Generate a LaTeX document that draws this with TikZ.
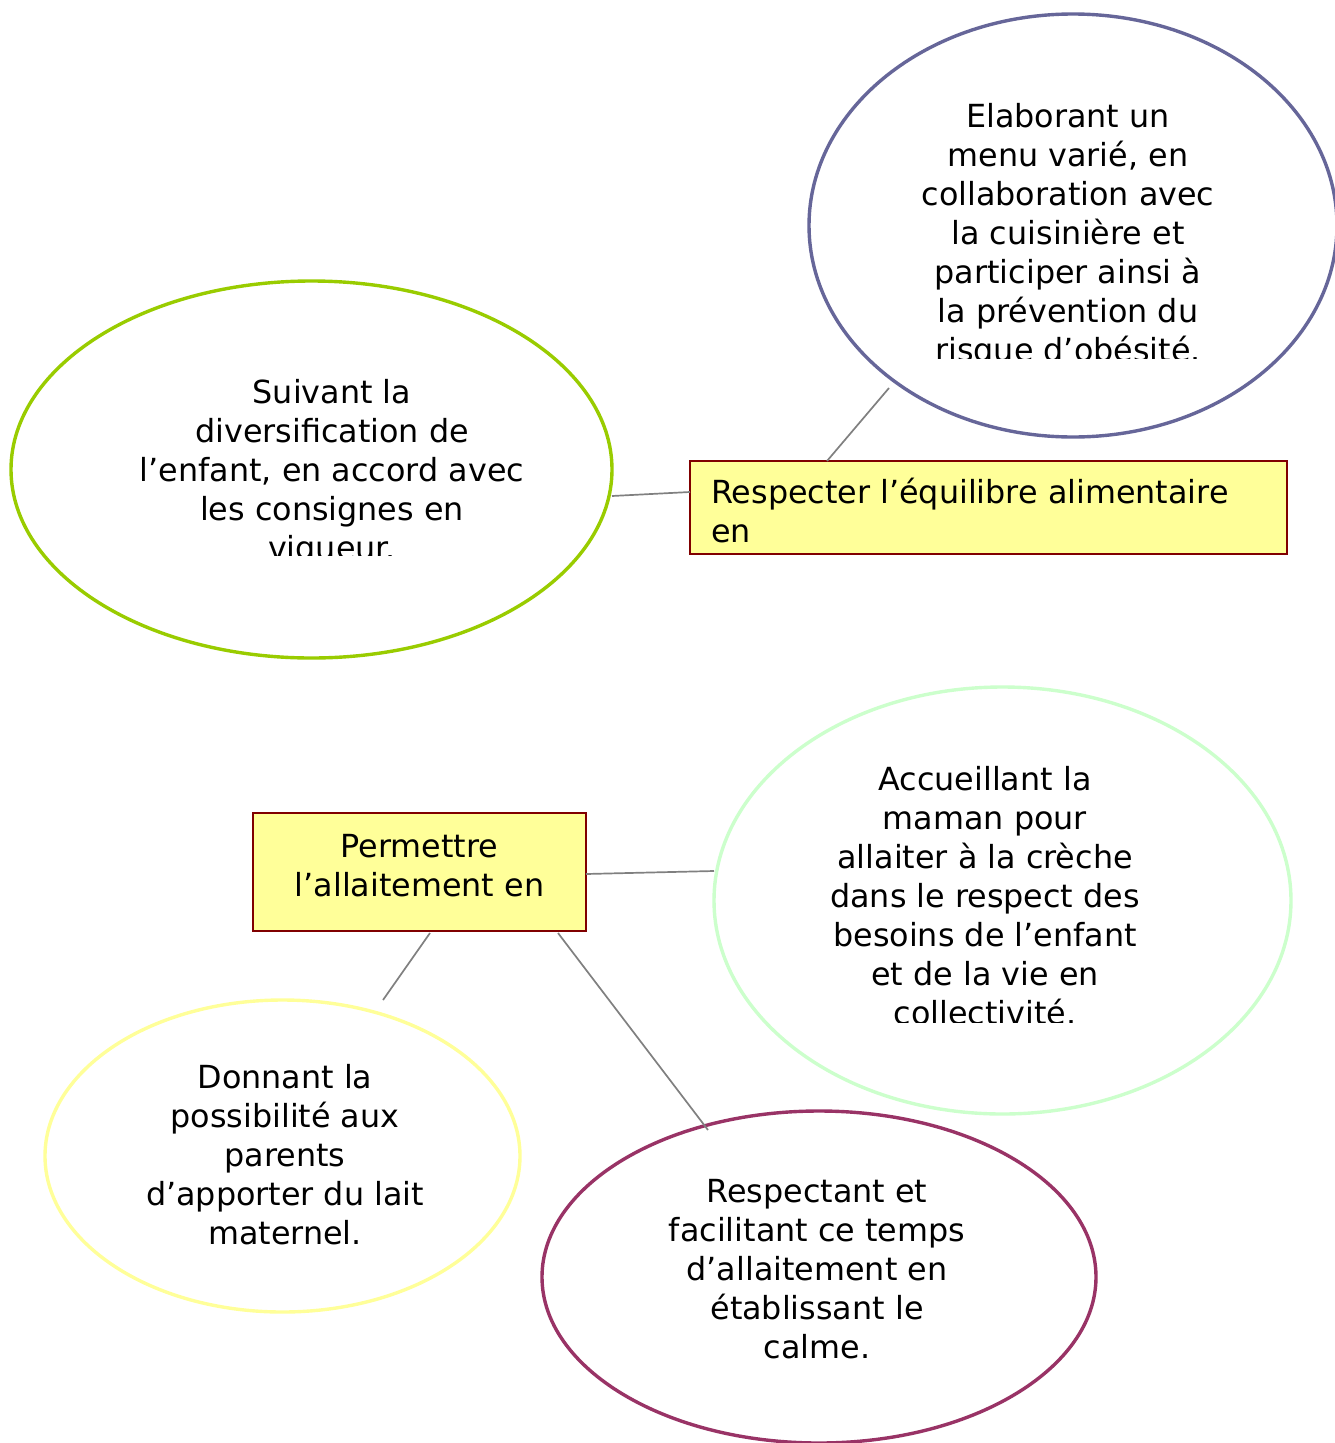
\documentclass[tikz,border=0pt]{standalone}
\usepackage{fontspec}
\setmainfont{DejaVu Sans}
\usetikzlibrary{shapes.geometric}
\definecolor{cPurple}{HTML}{666699}
\definecolor{cGreen}{HTML}{99CC00}
\definecolor{cLight}{HTML}{CCFFCC}
\definecolor{cYellow}{HTML}{FFFF99}
\definecolor{cWine}{HTML}{993366}
\definecolor{cMaroon}{HTML}{800000}
\definecolor{cLine}{HTML}{808080}
\begin{document}
\begin{tikzpicture}[x=1pt,y=-1pt,
  ell/.style={ellipse, draw, line width=3.4pt, inner sep=0pt, fill=white},
  box/.style={rectangle, draw=cMaroon, fill=cYellow, line width=2pt, inner sep=0pt},
  txt/.style={inner sep=0pt, align=center, anchor=north, font=\fontsize{31.8}{39}\selectfont},
  ltxt/.style={inner sep=0pt, align=left, anchor=north west, font=\fontsize{31.8}{39}\selectfont},
  conn/.style={draw=cLine, line width=1.7pt}]
\useasboundingbox (0,0) rectangle (1334,1443);
\fill[white] (0,0) rectangle (1334,1443);

% connector end points
\coordinate (a1) at (827,461);
\coordinate (a2) at (889,388);
\coordinate (b1) at (612,496);
\coordinate (b2) at (690,492);
\coordinate (c1) at (586,874);
\coordinate (c2) at (714,871);
\coordinate (d1) at (430,933);
\coordinate (d2) at (383,1000);
\coordinate (f1) at (558,933);
\coordinate (f2) at (708,1130);

% ellipses
\node[ell, draw=cPurple, minimum width=528pt, minimum height=423pt] (eTop) at (1073,225.5) {};
\node[ell, draw=cGreen, minimum width=601pt, minimum height=377pt] (eLeft) at (311.5,469.5) {};
\node[ell, draw=cLight, minimum width=577pt, minimum height=427pt] (eMid) at (1002.5,900.5) {};
\node[ell, draw=cYellow, minimum width=475pt, minimum height=312pt] (eYel) at (282.5,1156) {};
\node[ell, draw=cWine, minimum width=554pt, minimum height=332pt] (eBot) at (819,1277) {};

% boxes
\node[box, minimum width=597pt, minimum height=93pt] (r1) at (988.5,507.5) {};
\node[box, minimum width=333pt, minimum height=118pt] (r2) at (419.5,872) {};

% connectors
\draw[conn] (a1) -- (a2);
\draw[conn] (b1) -- (b2);
\draw[conn] (c1) -- (c2);
\draw[conn] (d1) -- (d2);
\draw[conn] (f1) -- (f2);

% texts
\begin{scope}
\clip (800,0) rectangle (1334,358);
\node[txt] (tTop) at (1068,99.7) {\strut Elaborant un\\menu varié, en\\collaboration avec\\la cuisinière et\\participer ainsi à\\la prévention du\\risque d’obésité.};
\end{scope}
\begin{scope}
\clip (0,300) rectangle (620,555);
\node[txt] (tLeft) at (332,375.7) {\strut Suivant la\\diversification de\\l’enfant, en accord avec\\les consignes en\\vigueur.};
\end{scope}
\begin{scope}
\clip (700,700) rectangle (1300,1022);
\node[txt] (tMid) at (985,762.7) {\strut Accueillant la\\maman pour\\allaiter à la crèche\\dans le respect des\\besoins de l’enfant\\et de la vie en\\collectivité.};
\end{scope}
\node[txt] (tYel) at (285,1060.7) {\strut Donnant la\\possibilité aux\\parents\\d’apporter du lait\\maternel.};
\node[txt] (tBot) at (817,1174.7) {\strut Respectant et\\facilitant ce temps\\d’allaitement en\\établissant le\\calme.};
\node[ltxt] (tR1) at (711,475.7) {\strut Respecter l’équilibre alimentaire\\en};
\node[txt] (tR2) at (419.5,829.7) {\strut Permettre\\l’allaitement en};
\end{tikzpicture}
\end{document}
